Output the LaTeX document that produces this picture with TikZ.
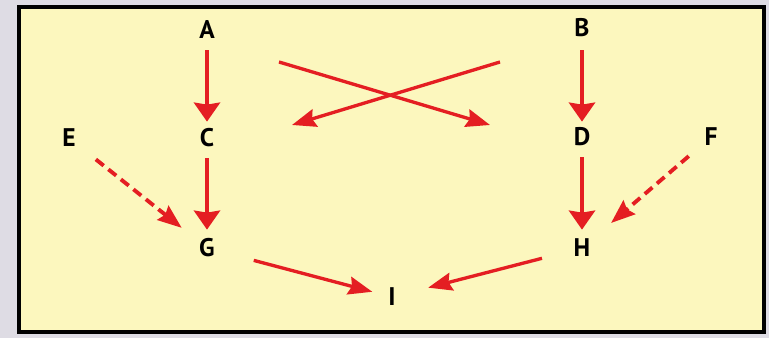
\documentclass[tikz,border=0pt]{standalone}
\usepackage{fontspec}
\setsansfont{PT Sans}
\usetikzlibrary{arrows.meta}
\definecolor{paper}{RGB}{252,247,190}
\definecolor{margin}{RGB}{222,220,228}
\definecolor{arrowred}{RGB}{228,30,34}
\tikzset{
  letter/.style={circle,inner sep=0pt,minimum size=0.6cm,
    font=\sffamily\bfseries\fontsize{14.5}{16}\selectfont},
  flow/.style={arrowred,line width=2.4pt,
    -{Stealth[length=0.38cm,width=0.52cm,inset=0.04cm]}},
  slant/.style={arrowred,line width=1.9pt,
    -{Stealth[length=0.48cm,width=0.36cm,inset=0.06cm]}},
  maybe/.style={slant,line width=2.2pt,dash pattern=on 0.2cm off 0.12cm}
}
\begin{document}
\begin{tikzpicture}
\fill[margin] (0,0) rectangle (15.38,6.76);
\draw[line width=1.8pt,fill=paper] (0.38,0.12) rectangle (15.28,6.62);
% letters
\node[letter] (A) at (4.14,6.16) {A};
\node[letter] (B) at (11.64,6.20) {B};
\node[letter] (C) at (4.14,4.00) {C};
\node[letter] (D) at (11.64,4.02) {D};
\node[letter] (E) at (1.38,4.00) {E};
\node[letter] (F) at (14.22,4.02) {F};
\node[letter] (G) at (4.14,1.80) {G};
\node[letter] (H) at (11.64,1.80) {H};
\node[letter] (I) at (7.84,0.82) {I};
% the crossing pair has free ends
\coordinate (ab1) at (5.58,5.52);
\coordinate (ab2) at (9.80,4.26);
\coordinate (ba1) at (10.00,5.52);
\coordinate (ba2) at (5.84,4.26);
\draw[flow,shorten <=0.1cm,shorten >=0.02cm] (A) -- (C);
\draw[flow,shorten <=0.1cm,shorten >=0.06cm] (C) -- (G);
\draw[flow,shorten <=0.14cm] (B) -- (D);
\draw[flow,shorten <=0.1cm,shorten >=0.06cm] (D) -- (H);
\draw[slant] (ab1) -- (ab2);
\draw[slant] (ba1) -- (ba2);
\draw[maybe,shorten <=0.38cm,shorten >=0.34cm] (E) -- (G);
\draw[maybe,shorten <=0.28cm,shorten >=0.46cm] (F) -- (H);
\draw[slant,shorten <=0.66cm,shorten >=0.1cm] (G) -- (I);
\draw[slant,shorten <=0.52cm,shorten >=0.44cm] (H) -- (I);
\end{tikzpicture}
\end{document}
